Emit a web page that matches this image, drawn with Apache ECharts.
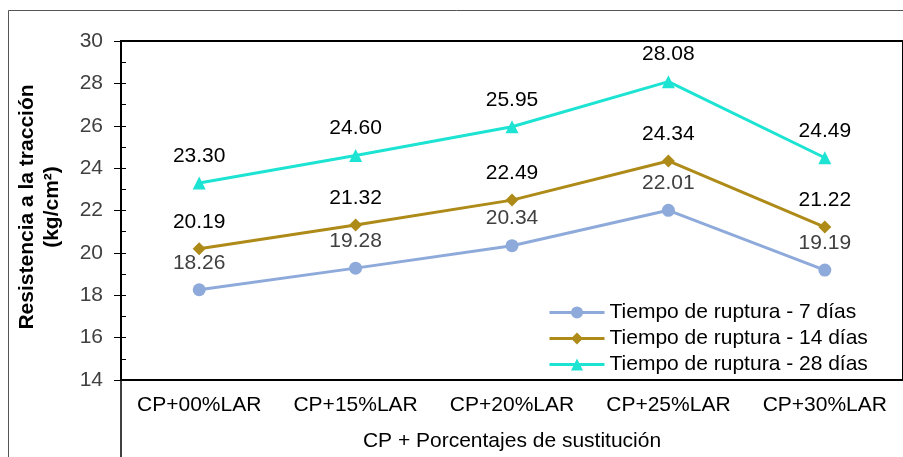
<!DOCTYPE html>
<html><head><meta charset="utf-8">
<script src="https://cdn.jsdelivr.net/npm/echarts@6/dist/echarts.min.js"></script>
<style>html,body{margin:0;padding:0;background:#fff}#c{width:903px;height:457px}</style>
</head><body><div id="c"></div>
<script>
const categories = ['CP+00%LAR','CP+15%LAR','CP+20%LAR','CP+25%LAR','CP+30%LAR'];
const s7 = [18.26, 19.28, 20.34, 22.01, 19.19];
const s14 = [20.19, 21.32, 22.49, 24.34, 21.22];
const s28 = [23.30, 24.60, 25.95, 28.08, 24.49];
const seriesNames = ['Tiempo de ruptura - 7 días','Tiempo de ruptura - 14 días','Tiempo de ruptura - 28 días'];
const yTicks = {min: 14, max: 30, interval: 2};

const font = 'Liberation Sans, Arial, sans-serif';
const chart = echarts.init(document.getElementById('c'));
function mk(name, data, color, symbol, size, labelColor){
  return {
    name, type:'line', data, symbol, symbolSize:size,
    lineStyle:{color, width:3}, itemStyle:{color},
    label:{show:true, position:'top', distance:10, color:labelColor,
      fontFamily:font, fontSize:21, formatter:p=>p.value.toFixed(2)},
    z: 3
  };
}
chart.setOption({
  animation:false,
  grid:{left:121, top:41, width:785, height:340, show:true, borderColor:'#000', borderWidth:2, backgroundColor:'transparent'},
  legend:{
    orient:'vertical', left:548, top:302, itemWidth:55, itemHeight:15, itemGap:5, padding:0,
    lineStyle:{width:3},
    textStyle:{fontFamily:font, fontSize:21, lineHeight:21, color:'#000'},
    data: seriesNames
  },
  xAxis:{type:'category', data:categories, boundaryGap:true,
    axisLine:{lineStyle:{color:'#000', width:2}}, axisTick:{show:false},
    axisLabel:{color:'#000', fontFamily:font, fontSize:21, margin:15, interval:0},
    name:'CP + Porcentajes de sustitución', nameLocation:'middle', nameGap:51,
    nameTextStyle:{color:'#000', fontFamily:font, fontSize:21}
  },
  yAxis:[{type:'value', min:yTicks.min, max:yTicks.max, interval:yTicks.interval,
    axisLine:{show:true, lineStyle:{color:'#000', width:2}},
    axisTick:{show:true, length:7, lineStyle:{color:'#000'}},
    splitLine:{show:false},
    axisLabel:{color:'#404040', fontFamily:font, fontSize:21, margin:18}
  },{type:'value', min:yTicks.min, max:yTicks.max, interval:1, position:'left',
    axisLine:{show:false}, axisTick:{show:true, inside:true, length:5, lineStyle:{color:'#000'}},
    axisLabel:{show:false}, splitLine:{show:false}
  }],
  series:[
    mk(seriesNames[0], s7, '#8eaadb', 'circle', 13, '#404040'),
    mk(seriesNames[1], s14, '#ae8b18', 'diamond', 13, '#000'),
    mk(seriesNames[2], s28, '#1de3d3', 'triangle', 13, '#000')
  ],
  graphic:[
    {type:'rect', shape:{x:8.5, y:10.5, width:1000, height:1000}, style:{fill:'none', stroke:'#555', lineWidth:1}, silent:true},
    {type:'line', shape:{x1:121, y1:381, x2:121, y2:457}, style:{stroke:'#000', lineWidth:1.5}},
    {type:'text', x:27, y:207, rotation:Math.PI/2, style:{text:'Resistencia a la tracción', fontFamily:font, fontSize:21, fontWeight:'bold', fill:'#000', align:'center', verticalAlign:'middle'}},
    {type:'text', x:52, y:207, rotation:Math.PI/2, style:{text:'(kg/cm²)', fontFamily:font, fontSize:21, fontWeight:'bold', fill:'#000', align:'center', verticalAlign:'middle'}}
  ]
});
</script></body></html>
